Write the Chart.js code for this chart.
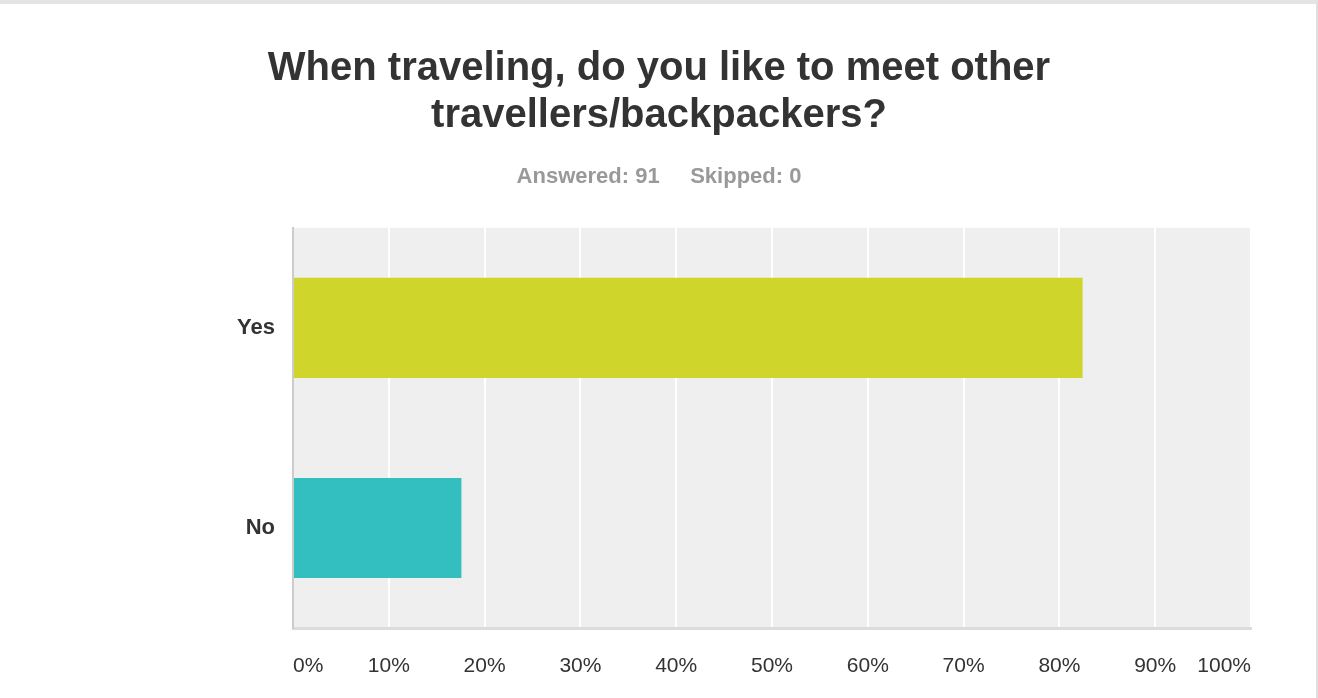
<!DOCTYPE html>
<html lang="en">
<head>
    <meta charset="UTF-8">
    <title>Meet other travellers</title>
    <script src="https://cdn.jsdelivr.net/npm/chart.js"></script>
    <style>
        html, body { margin: 0; padding: 0; background: #fff; }
        #wrap { position: relative; width: 1318px; height: 698px; }
        #frame {
            position: absolute; left: 0; top: 0; width: 1316px; height: 694px;
            border-top: 4px solid #e4e4e4; border-right: 2px solid #e0e0e0;
            pointer-events: none;
        }
    </style>
</head>
<body>
    <div id="wrap">
        <canvas id="surveyChart" width="1318" height="698"></canvas>
        <div id="frame"></div>
    </div>
    <script>
        const titleLines = ['When traveling, do you like to meet other', 'travellers/backpackers?'];
        const subtitleText = 'Answered: 91     Skipped: 0';
        const answers = ['Yes', 'No'];
        const percents = [82.42, 17.58];
        const barColors = ['#cfd52a', '#33bebf'];

        const plotBackground = {
            id: 'plotBackground',
            beforeDraw(chart) {
                const { ctx, chartArea: a } = chart;
                ctx.save();
                ctx.fillStyle = '#efefef';
                ctx.fillRect(a.left, a.top, a.right - a.left, a.bottom - a.top);
                ctx.restore();
            }
        };

        const font = "'Liberation Sans', Arial, Helvetica, sans-serif";

        new Chart(document.getElementById('surveyChart').getContext('2d'), {
            type: 'bar',
            data: {
                labels: answers,
                datasets: [{
                    data: percents,
                    backgroundColor: barColors,
                    borderWidth: 0,
                    barPercentage: 0.5,
                    categoryPercentage: 1
                }]
            },
            plugins: [plotBackground],
            options: {
                indexAxis: 'y',
                responsive: false,
                animation: false,
                // equal side padding keeps the title centred on the page
                layout: { padding: { top: 45, right: 67, left: 67, bottom: 0 } },
                plugins: {
                    legend: { display: false },
                    tooltip: { enabled: false },
                    title: {
                        display: true,
                        text: titleLines,
                        color: '#333',
                        font: { family: font, size: 40, weight: 'bold', lineHeight: 1.18 },
                        padding: { top: 0, bottom: 24 }
                    },
                    subtitle: {
                        display: true,
                        text: subtitleText,
                        color: '#999',
                        font: { family: font, size: 22, weight: 'bold', lineHeight: 1.2 },
                        padding: { top: 0, bottom: 38 }
                    }
                },
                scales: {
                    x: {
                        min: 0,
                        max: 100,
                        afterFit(scale) { scale.height = 70; },
                        ticks: {
                            stepSize: 10,
                            align: 'inner',
                            padding: 26,
                            color: '#333',
                            font: { family: font, size: 21 },
                            callback: v => v + '%'
                        },
                        grid: { color: '#ffffff', lineWidth: 2, drawTicks: false },
                        border: { display: true, color: '#dcdcdc', width: 3 }
                    },
                    y: {
                        afterFit(scale) { scale.width = 226; },
                        ticks: {
                            padding: 18,
                            color: '#333',
                            font: { family: font, size: 22, weight: 'bold' }
                        },
                        grid: { display: false, drawTicks: false },
                        border: { display: true, color: '#cccccc', width: 2 }
                    }
                }
            }
        });
    </script>
</body>
</html>
